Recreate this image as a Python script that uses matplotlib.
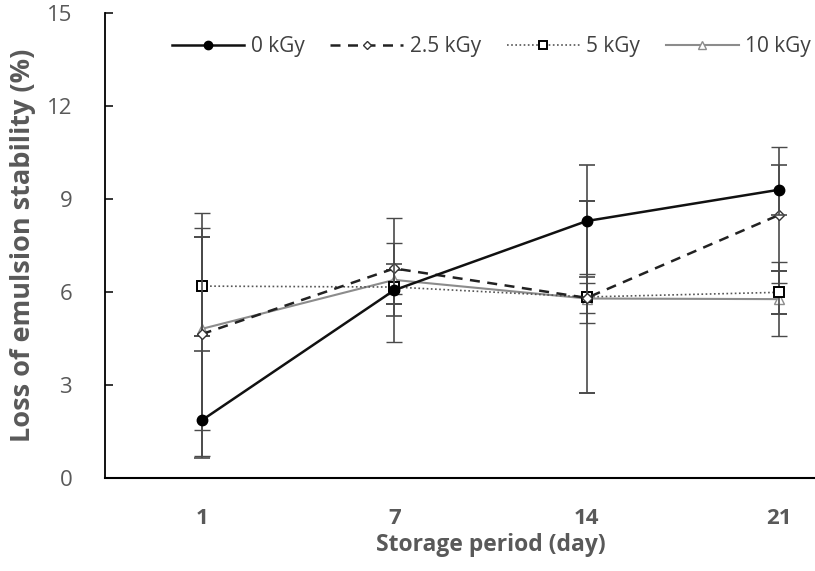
import matplotlib
matplotlib.use("Agg")
import matplotlib.pyplot as plt
from matplotlib.lines import Line2D
import numpy as np

plt.rcParams["font.family"] = ["Open Sans", "DejaVu Sans"]

days = ["1", "7", "14", "21"]

loss_0 = [1.85, 6.05, 8.28, 9.29]
err_0_low = [1.23, 0.85, 1.80, 0.81]
err_0_high = [2.24, 0.85, 1.80, 0.81]

loss_25 = [4.63, 6.75, 5.80, 8.48]
err_25 = [3.92, 0.81, 0.48, 2.20]

loss_5 = [6.18, 6.15, 5.83, 5.98]
err_5 = [1.60, 0.55, 3.10, 0.69]

loss_10 = [4.80, 6.38, 5.78, 5.76]
err_10 = [3.27, 2.00, 0.80, 1.20]

labels = ["0 kGy", "2.5 kGy", "5 kGy", "10 kGy"]

x = np.arange(len(days))

fig = plt.figure(figsize=(8.15, 5.71), dpi=100)
# the original is cropped on the right, so the axes run past the figure edge
ax = fig.add_axes([0.1294, 0.1634, 0.945, 0.8144])

err_style = dict(ecolor="#4a4a4a", elinewidth=1.2, capsize=5.5, capthick=1.2)

style_0 = dict(color="#111111", lw=1.8, ls="-", marker="o", ms=7.5,
               mfc="black", mec="black")
style_25 = dict(color="#222222", lw=1.8, ls=(0, (4, 3)), marker="D", ms=5.5,
                mfc="white", mec="#333333", mew=1.0)
style_5 = dict(color="#555555", lw=1.2, ls=(0, (1, 1.5)), marker="s", ms=7.5,
               mfc="white", mec="black", mew=1.4)
style_10 = dict(color="#8c8c8c", lw=1.5, ls="-", marker="^", ms=7,
                mfc="white", mec="#8c8c8c", mew=1.0)

ax.errorbar(x, loss_10, yerr=err_10, zorder=3, **style_10, **err_style)
ax.errorbar(x, loss_5, yerr=err_5, zorder=4, **style_5, **err_style)
ax.errorbar(x, loss_25, yerr=err_25, zorder=5, **style_25, **err_style)
ax.errorbar(x, loss_0, yerr=[err_0_low, err_0_high], zorder=6,
            **style_0, **err_style)

ax.set_xlim(-0.5, 3.5)
ax.set_ylim(0, 15)
ax.set_yticks([0, 3, 6, 9, 12, 15])
ax.set_xticks(x)
ax.set_xticklabels(days, fontweight="bold")

for s in ["top", "right"]:
    ax.spines[s].set_visible(False)
ax.spines["left"].set_linewidth(1.3)
ax.spines["bottom"].set_linewidth(1.5)

ax.tick_params(axis="y", direction="in", length=6, width=1.1, pad=24,
               labelsize=16, labelcolor="#595959")
ax.tick_params(axis="x", length=0, pad=22, labelsize=16, labelcolor="#595959")

ax.set_ylabel("Loss of emulsion stability (%)", fontsize=19.5, fontweight="bold",
              color="#595959", labelpad=8)
ax.set_xlabel("Storage period (day)", fontsize=16.5, fontweight="bold",
              color="#595959", labelpad=3)

# legend keys without the error bars
handles = []
for st in [style_0, style_25, style_5, style_10]:
    h = dict(st)
    h["ms"] = st["ms"] * 0.8
    handles.append(Line2D([], [], **h))

fig.legend(handles, labels, ncol=4, frameon=False, loc="center right",
           bbox_to_anchor=(1.0, 0.918), fontsize=15,
           handlelength=3.5, handletextpad=0.3, columnspacing=1.25,
           borderaxespad=0.1, borderpad=0.1, labelcolor="#404040")

fig.savefig("out.png", dpi=100)
